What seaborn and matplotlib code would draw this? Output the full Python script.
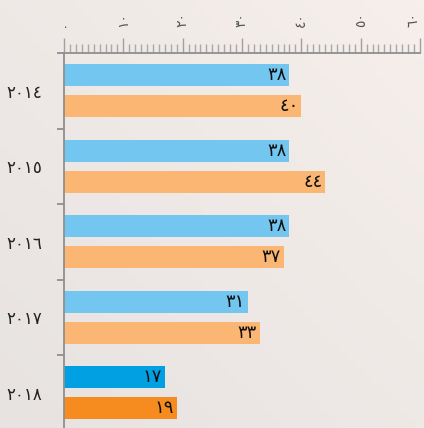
import matplotlib
matplotlib.use('Agg')
import matplotlib.pyplot as plt
import seaborn as sns
import numpy as np
import pandas as pd

# data
years = ['٢٠١٤', '٢٠١٥', '٢٠١٦', '٢٠١٧', '٢٠١٨']
series_a = [38, 38, 38, 31, 17]
series_b = [40, 44, 37, 33, 19]
x_ticks = [0, 10, 20, 30, 40, 50, 60]

digits = str.maketrans('0123456789', '٠١٢٣٤٥٦٧٨٩')
def ar(v):
    return str(v).translate(digits)

df = pd.DataFrame({
    'year': years * 2,
    'series': ['a'] * len(years) + ['b'] * len(years),
    'value': series_a + series_b,
})

light = ['#72C6EF', '#FBB673']
dark = ['#00A0E3', '#F68B1F']
grey = '#8f8f8f'

fig = plt.figure(figsize=(4.24, 4.28), dpi=100)

# background gradient
bg = fig.add_axes([0, 0, 1, 1], zorder=-10)
gx, gy = np.meshgrid(np.linspace(0, 1, 50), np.linspace(0, 1, 50))
g = 0.5 * gx + 0.5 * gy
c0 = np.array([0xE7, 0xE3, 0xE1]) / 255
c1 = np.array([0xF6, 0xEF, 0xEB]) / 255
img = c0 + (c1 - c0) * g[..., None]
bg.imshow(img, extent=[0, 1, 0, 1], origin='lower', aspect='auto')
bg.axis('off')

ax = fig.add_axes([64 / 424, -2.5 / 428, 356 / 424, 377.5 / 428])
ax.set_facecolor('none')

sns.barplot(data=df, y='year', x='value', hue='series', order=years, hue_order=['a', 'b'],
            palette=light, orient='h', width=0.82, gap=0.3, legend=False, ax=ax, saturation=1)

for i, cont in enumerate(ax.containers):
    cont[len(years) - 1].set_facecolor(dark[i])
    for p in cont:
        p.set_edgecolor('none')
    vals = series_a if i == 0 else series_b
    texts = ax.bar_label(cont, labels=[ar(v) for v in vals], padding=-2, fontsize=13, color='#111111')
    for t in texts:
        t.set_ha('right')

ax.set_xlim(0, 60)
ax.set_ylim(4.5, -0.5)
ax.set_xlabel('')
ax.set_ylabel('')

sns.despine(ax=ax, top=False, right=True, bottom=True, left=False)
for s in ['top', 'left']:
    ax.spines[s].set_color(grey)
    ax.spines[s].set_linewidth(1.3)

# x axis on top
ax.xaxis.tick_top()
ax.set_xticks(x_ticks)
ax.set_xticklabels([ar(v) for v in x_ticks], rotation=90, fontsize=10, color='#555555')
ax.get_xticklabels()[-1].set_ha('right')  # keep last label inside the figure
ax.set_xticks(np.arange(0, 61, 1), minor=True)
ax.tick_params(axis='x', which='major', length=11, width=1, color='#a0a0a0', pad=8)
ax.tick_params(axis='x', which='minor', length=6.5, width=1, color='#a8a8a8', top=True, bottom=False)
ax.tick_params(axis='x', which='both', bottom=False)

# y axis: year labels, ticks at group borders
ax.set_yticks(range(len(years)))
ax.set_yticklabels(years, fontsize=12, color='#222222')
ax.set_yticks(np.arange(-0.5, len(years) - 0.5, 1), minor=True)
ax.tick_params(axis='y', which='major', length=0, pad=16)
ax.tick_params(axis='y', which='minor', length=5, width=1.3, color=grey)

fig.savefig('out.png', dpi=100)
